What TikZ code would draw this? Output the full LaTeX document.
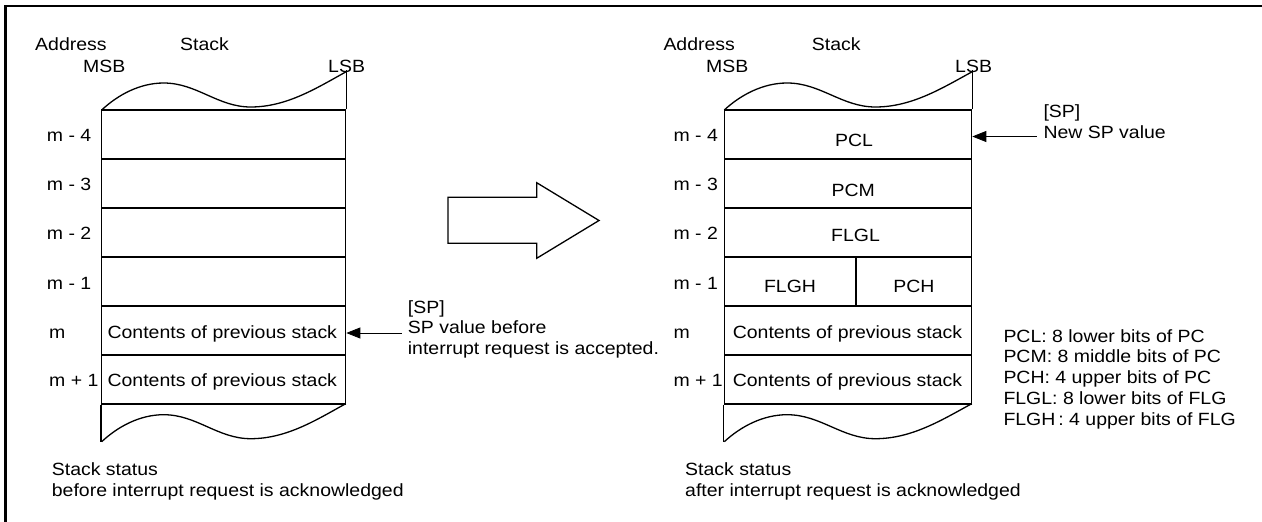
\documentclass[tikz,border=0pt]{standalone}
\usepackage{fontspec}
\setmainfont{Liberation Sans}[FakeStretch=1.1]
\usetikzlibrary{arrows.meta}
\newcommand{\dfont}{\fontsize{17.7}{20.7}\selectfont}
% wave: #1 left x, #2 left y, #3 x scale
\newcommand{\wavepath}[3]{(#1,#2) .. controls ({#1+16*#3},{#2-15}) and ({#1+38*#3},{#2-27}) .. ({#1+62*#3},{#2-27}) .. controls ({#1+95*#3},{#2-27}) and ({#1+116*#3},{#2-3}) .. ({#1+149*#3},{#2-3}) .. controls ({#1+185*#3},{#2-3}) and ({#1+215*#3},{#2-22}) .. ({#1+244*#3},{#2-38})}
\begin{document}
\begin{tikzpicture}[x=1pt,y=-1pt,
  txt/.style={font=\dfont, inner sep=0pt, anchor=base west},
  ctxt/.style={font=\dfont, inner sep=0pt, anchor=base},
  multi/.style={font=\dfont, inner sep=0pt, anchor=base west, align=left},
  cell/.style={draw, line width=1.3pt, minimum height=49pt, inner sep=0pt},
  edge/.style={line width=1.3pt},
  ptr/.style={draw=black, line width=0.8pt, -{Triangle[length=14pt,width=11pt]}},
]
\useasboundingbox (0,0) rectangle (1262,522);
% frame
\draw[line width=2.8pt, line join=miter] (5.7,540) -- (5.7,6) -- (1280,6);

% ---------------- left stack ----------------
\node[txt] (la) at (35,50) {Address};
\node[txt] (ls) at (180,50) {Stack};
\node[txt] (lmsb) at (83,72.7) {MSB};
\node[txt] (llsb) at (328,72.7) {LSB};
\foreach \n/\y in {4/134.5,3/183.5,2/232.5,1/281.5,0/330.5,5/379.5}
  \node[cell, minimum width=244pt] (L\n) at (223.7,\y) {};
\draw[edge] (L4.north east) -- ++(0,-39.3);
\draw[edge] (L5.south west) -- ++(0,37.7);
\draw[edge] \wavepath{101.7}{110}{1};
\draw[edge] \wavepath{101.7}{441.7}{1};
\node[txt] (lm4) at (46.7,141) {m - 4};
\node[txt] (lm3) at (46.7,190) {m - 3};
\node[txt] (lm2) at (46.7,239.3) {m - 2};
\node[txt] (lm1) at (46.7,289.3) {m - 1};
\node[txt] (lm0) at (49,338.3) {m};
\node[txt] (lm5) at (49,386) {m + 1};
\node[ctxt] (lc0) at (222.3,338.3) {Contents of previous stack};
\node[ctxt] (lc5) at (222.3,386) {Contents of previous stack};
\node[multi] (spl) at (407.7,354.4) {[SP]\\SP value before\\interrupt request is accepted.};
\coordinate (spls) at (401.7,333);
\draw[ptr] (spls) -- ([yshift=-2.5pt]L0.east);
\node[multi] (capl) at (51.7,496.7) {Stack status\\[1pt]before interrupt request is acknowledged};

% ---------------- big arrow ----------------
\draw[edge, line join=miter] (448,197.3) -- (536.7,197.3) -- (536.7,182.7) -- (599,220.5) -- (536.7,258.3) -- (536.7,243.3) -- (448,243.3) -- cycle;

% ---------------- right stack ----------------
\node[txt] (ra) at (663.3,50) {Address};
\node[txt] (rs) at (811.7,50) {Stack};
\node[txt] (rmsb) at (706,72.7) {MSB};
\node[txt] (rlsb) at (955,72.7) {LSB};
\foreach \n/\y in {4/134.5,3/183.5,2/232.5,0/330.5,5/379.5}
  \node[cell, minimum width=247.4pt] (R\n) at (848,\y) {};
\node[cell, minimum width=131.7pt] (R1a) at (790.15,281.5) {};
\node[cell, minimum width=115.7pt] (R1b) at (913.85,281.5) {};
\draw[edge] (R4.north east) -- ++(0,-39.3);
\draw[edge] (R5.south west) -- ++(0,37.7);
\draw[edge] \wavepath{724.3}{110}{1.014};
\draw[edge] \wavepath{724.3}{441.7}{1.014};
\node[txt] (rm4) at (673.3,141) {m - 4};
\node[txt] (rm3) at (673.3,190) {m - 3};
\node[txt] (rm2) at (673.3,239.3) {m - 2};
\node[txt] (rm1) at (673.3,289.3) {m - 1};
\node[txt] (rm0) at (673.3,338.3) {m};
\node[txt] (rm5) at (673.3,386) {m + 1};
\node[ctxt] (pcl) at (854,146.7) {PCL};
\node[ctxt] (pcm) at (853.3,196) {PCM};
\node[ctxt] (flgl) at (855.5,241.7) {FLGL};
\node[ctxt] (flgh) at (790,292.7) {FLGH};
\node[ctxt] (pch) at (914,292.7) {PCH};
\node[ctxt] (rc0) at (847.5,338.3) {Contents of previous stack};
\node[ctxt] (rc5) at (847.5,386) {Contents of previous stack};
\node[multi] (spr) at (1043.3,138) {[SP]\\New SP value};
\coordinate (sprs) at (1036.7,136.5);
\draw[ptr] (sprs) -- ([yshift=-2pt]R4.east);
\node[multi] (leg) at (1003.3,425) {PCL: 8 lower bits of PC\\PCM: 8 middle bits of PC\\PCH: 4 upper bits of PC\\FLGL: 8 lower bits of FLG\\FLGH\,: 4 upper bits of FLG};
\node[multi] (capr) at (685,496.7) {Stack status\\[1pt]after interrupt request is acknowledged};
\end{tikzpicture}
\end{document}
